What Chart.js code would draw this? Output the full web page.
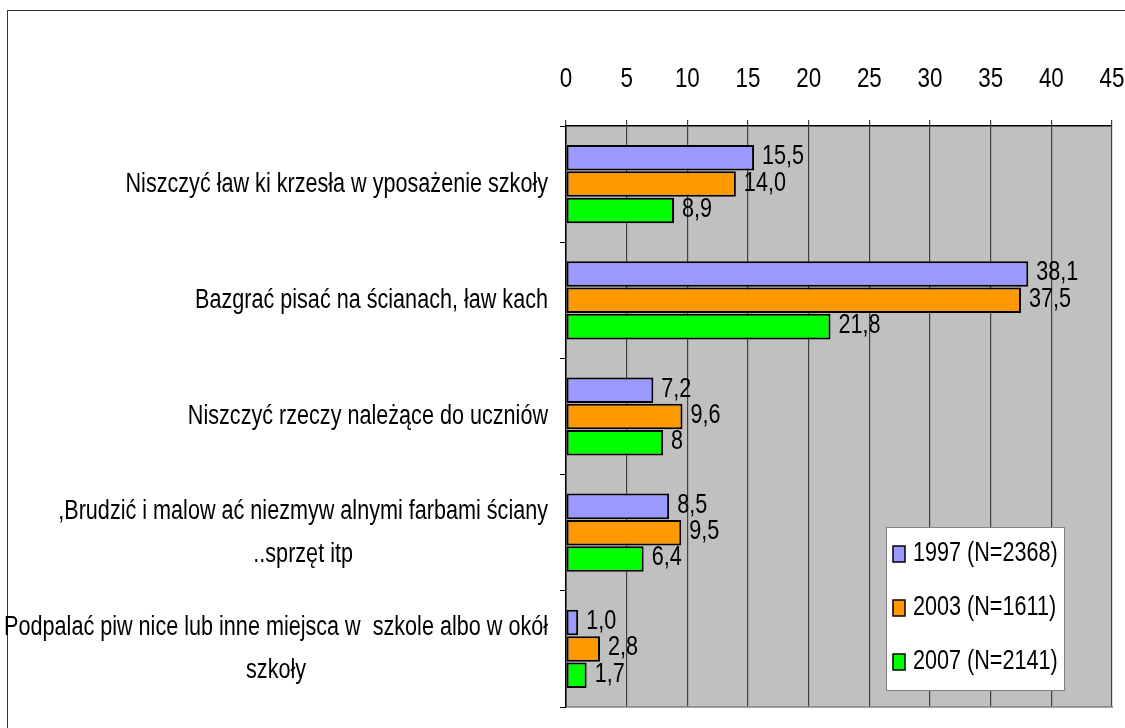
<!DOCTYPE html>
<html>
<head>
<meta charset="utf-8">
<script src="https://cdn.jsdelivr.net/npm/chart.js"></script>
<style>
  body { margin: 0; background: #fff; overflow: hidden; }
  #wrap { position: relative; width: 1125px; height: 728px; }
  #frame { position: absolute; left: 7px; top: 10px; width: 1140px; height: 740px; border: 1.5px solid #333; box-sizing: border-box; pointer-events: none; }
  canvas { display: block; position: absolute; left: 0; top: 0; }
</style>
</head>
<body>
<div id="wrap">
  <div id="frame"></div>
  <canvas id="chart" width="1125" height="728"></canvas>
</div>
<script>
// categories, top to bottom
const categories = [
  ['Niszczyć ław ki krzesła w yposażenie szkoły'],
  ['Bazgrać pisać na ścianach, ław kach'],
  ['Niszczyć rzeczy należące do uczniów'],
  [',Brudzić i malow ać niezmyw alnymi farbami ściany', '..sprzęt itp'],
  ['Podpalać piw nice lub inne miejsca w  szkole albo w okół', 'szkoły']
];

const seriesNames = ['1997 (N=2368)', '2003 (N=1611)', '2007 (N=2141)'];
const seriesColors = ['#9999FF', '#FF9900', '#00FF00'];

const values1997 = [15.5, 38.1, 7.2, 8.5, 1.0];
const values2003 = [14.0, 37.5, 9.6, 9.5, 2.8];
const values2007 = [8.9, 21.8, 8.0, 6.4, 1.7];

const text1997 = ['15,5', '38,1', '7,2', '8,5', '1,0'];
const text2003 = ['14,0', '37,5', '9,6', '9,5', '2,8'];
const text2007 = ['8,9', '21,8', '8', '6,4', '1,7'];

const xTicks = [0, 5, 10, 15, 20, 25, 30, 35, 40, 45];

const FONT = "'Liberation Sans', Arial, sans-serif";
const SQUEEZE = 0.8; // narrow look of the original lettering

const allValues = [values1997, values2003, values2007];
const allTexts = [text1997, text2003, text2007];

// text drawn horizontally squeezed
function narrowText(ctx, text, x, y, align) {
  ctx.save();
  ctx.translate(x, y);
  ctx.scale(SQUEEZE, 1);
  ctx.textAlign = align;
  ctx.fillText(text, 0, 0);
  ctx.restore();
}

// grey plot area + bottom edge
const plotBg = {
  id: 'plotBg',
  beforeDraw(chart) {
    const { ctx, chartArea: a } = chart;
    ctx.save();
    ctx.fillStyle = '#C0C0C0';
    ctx.fillRect(a.left, a.top, a.right - a.left, a.bottom - a.top);
    ctx.restore();
  },
  afterDraw(chart) {
    const { ctx, chartArea: a } = chart;
    ctx.save();
    ctx.strokeStyle = '#808080';
    ctx.lineWidth = 1.5;
    ctx.beginPath();
    ctx.moveTo(a.left, a.bottom);
    ctx.lineTo(a.right + 1, a.bottom);
    ctx.stroke();
    ctx.restore();
  }
};

// x tick labels above the plot
const xLabels = {
  id: 'xLabels',
  afterDraw(chart) {
    const ctx = chart.ctx;
    const x = chart.scales.x;
    ctx.save();
    ctx.font = '28px ' + FONT;
    ctx.fillStyle = '#000';
    ctx.textBaseline = 'middle';
    xTicks.forEach(v => narrowText(ctx, String(v), x.getPixelForValue(v), 79, 'center'));
    ctx.restore();
  }
};

// value labels right of each bar
const valueLabels = {
  id: 'valueLabels',
  afterDatasetsDraw(chart) {
    const ctx = chart.ctx;
    ctx.save();
    ctx.font = '27px ' + FONT;
    ctx.fillStyle = '#000';
    ctx.textBaseline = 'middle';
    chart.data.datasets.forEach((ds, i) => {
      chart.getDatasetMeta(i).data.forEach((bar, j) => {
        narrowText(ctx, allTexts[i][j], bar.x + 8, bar.y - 1, 'left');
      });
    });
    ctx.restore();
  }
};

// category labels: each block right aligned, lines centred inside the block
const catLabels = {
  id: 'catLabels',
  afterDraw(chart) {
    const ctx = chart.ctx;
    const y = chart.scales.y;
    const right = chart.chartArea.left - 18;
    const lh = 43;
    ctx.save();
    ctx.font = '27px ' + FONT;
    ctx.fillStyle = '#000';
    ctx.textBaseline = 'middle';
    categories.forEach((lines, i) => {
      const w = Math.max(...lines.map(l => ctx.measureText(l).width)) * SQUEEZE;
      const cx = right - w / 2;
      const cy = y.getPixelForValue(i);
      const y0 = cy - (lines.length - 1) * lh / 2;
      lines.forEach((l, k) => narrowText(ctx, l, cx, y0 + k * lh, 'center'));
    });
    ctx.restore();
  }
};

// legend box inside the plot, bottom right
const boxLegend = {
  id: 'boxLegend',
  afterDraw(chart) {
    const { ctx, chartArea: a } = chart;
    const w = 178, h = 163;
    const x = a.right - 48 - w, y = a.bottom - 17 - h;
    ctx.save();
    ctx.fillStyle = '#fff';
    ctx.fillRect(x, y, w, h);
    ctx.strokeStyle = '#808080';
    ctx.lineWidth = 1;
    ctx.strokeRect(x + 0.5, y + 0.5, w, h);
    ctx.font = '27px ' + FONT;
    ctx.textBaseline = 'middle';
    chart.data.datasets.forEach((ds, i) => {
      const cy = y + 27 + i * 54;
      ctx.fillStyle = ds.backgroundColor;
      ctx.fillRect(x + 7, cy - 8, 12, 16);
      ctx.strokeStyle = '#000';
      ctx.lineWidth = 1.5;
      ctx.strokeRect(x + 7, cy - 8, 12, 16);
      ctx.fillStyle = '#000';
      narrowText(ctx, ds.label, x + 27, cy, 'left');
    });
    ctx.restore();
  }
};

new Chart(document.getElementById('chart'), {
  type: 'bar',
  data: {
    labels: categories.map(c => c.join(' ')),
    datasets: allValues.map((vals, i) => ({
      label: seriesNames[i],
      data: vals,
      backgroundColor: seriesColors[i],
      borderColor: '#000',
      borderWidth: 2,
      borderSkipped: false,
      barPercentage: 0.97,
      categoryPercentage: 0.68
    }))
  },
  options: {
    indexAxis: 'y',
    responsive: false,
    animation: false,
    layout: { padding: { left: 6, right: 13, top: 0, bottom: 21 } },
    plugins: {
      legend: { display: false },
      tooltip: { enabled: false }
    },
    scales: {
      x: {
        position: 'top',
        min: 0,
        max: 45,
        afterBuildTicks: s => { s.ticks = xTicks.map(v => ({ value: v })); },
        afterFit: s => { s.height = 126; },
        grid: { color: '#404040', lineWidth: 1.2, tickLength: 6 },
        border: { color: '#000', width: 1.5 },
        ticks: { display: false }
      },
      y: {
        afterFit: s => { s.width = 560; },
        grid: { display: true, drawOnChartArea: false, color: '#000', tickLength: 6, offset: true },
        border: { color: '#000', width: 1.5 },
        ticks: { display: false }
      }
    }
  },
  plugins: [plotBg, xLabels, valueLabels, catLabels, boxLegend]
});
</script>
</body>
</html>
